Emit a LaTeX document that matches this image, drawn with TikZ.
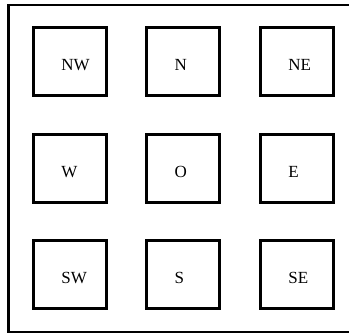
\documentclass[tikz,border=0pt]{standalone}
\usepackage{fontspec}
\setmainfont{Liberation Serif}
\usetikzlibrary{positioning}

\begin{document}
\begin{tikzpicture}[
  x=1pt, y=-1pt,
  cell/.style={draw, line width=3pt, minimum width=73pt, minimum height=68.5pt,
    inner sep=0pt},
  tag/.style={inner sep=0pt, font=\fontsize{17}{20}\selectfont}
]
\useasboundingbox (0,0) rectangle (349,334);
\draw[line width=2.5pt] (8.7,4.8) rectangle (353,332.2);

\node[cell] (nw) at (69.7, 61.7) {};
\node[cell] (n)  at (183, 61.7) {};
\node[cell] (ne) at (296.7, 61.7) {};
\node[cell] (w)  at (69.7, 168.5) {};
\node[cell] (o)  at (183, 168.5) {};
\node[cell] (e)  at (296.7, 168.5) {};
\node[cell] (sw) at (69.7, 274.7) {};
\node[cell] (s)  at (183, 274.7) {};
\node[cell] (se) at (296.7, 274.7) {};

\node[tag, right=29.5pt of nw.west, yshift=-3.5pt] (nwtxt) {NW};
\node[tag, right=29.5pt of n.west, yshift=-3.5pt] (ntxt) {N};
\node[tag, right=29.5pt of ne.west, yshift=-3.5pt] (netxt) {NE};
\node[tag, right=29.5pt of w.west, yshift=-3.5pt] (wtxt) {W};
\node[tag, right=29.5pt of o.west, yshift=-3.5pt] (otxt) {O};
\node[tag, right=29.5pt of e.west, yshift=-3.5pt] (etxt) {E};
\node[tag, right=29.5pt of sw.west, yshift=-3.5pt] (swtxt) {SW};
\node[tag, right=29.5pt of s.west, yshift=-3.5pt] (stxt) {S};
\node[tag, right=29.5pt of se.west, yshift=-3.5pt] (setxt) {SE};
\end{tikzpicture}
\end{document}
